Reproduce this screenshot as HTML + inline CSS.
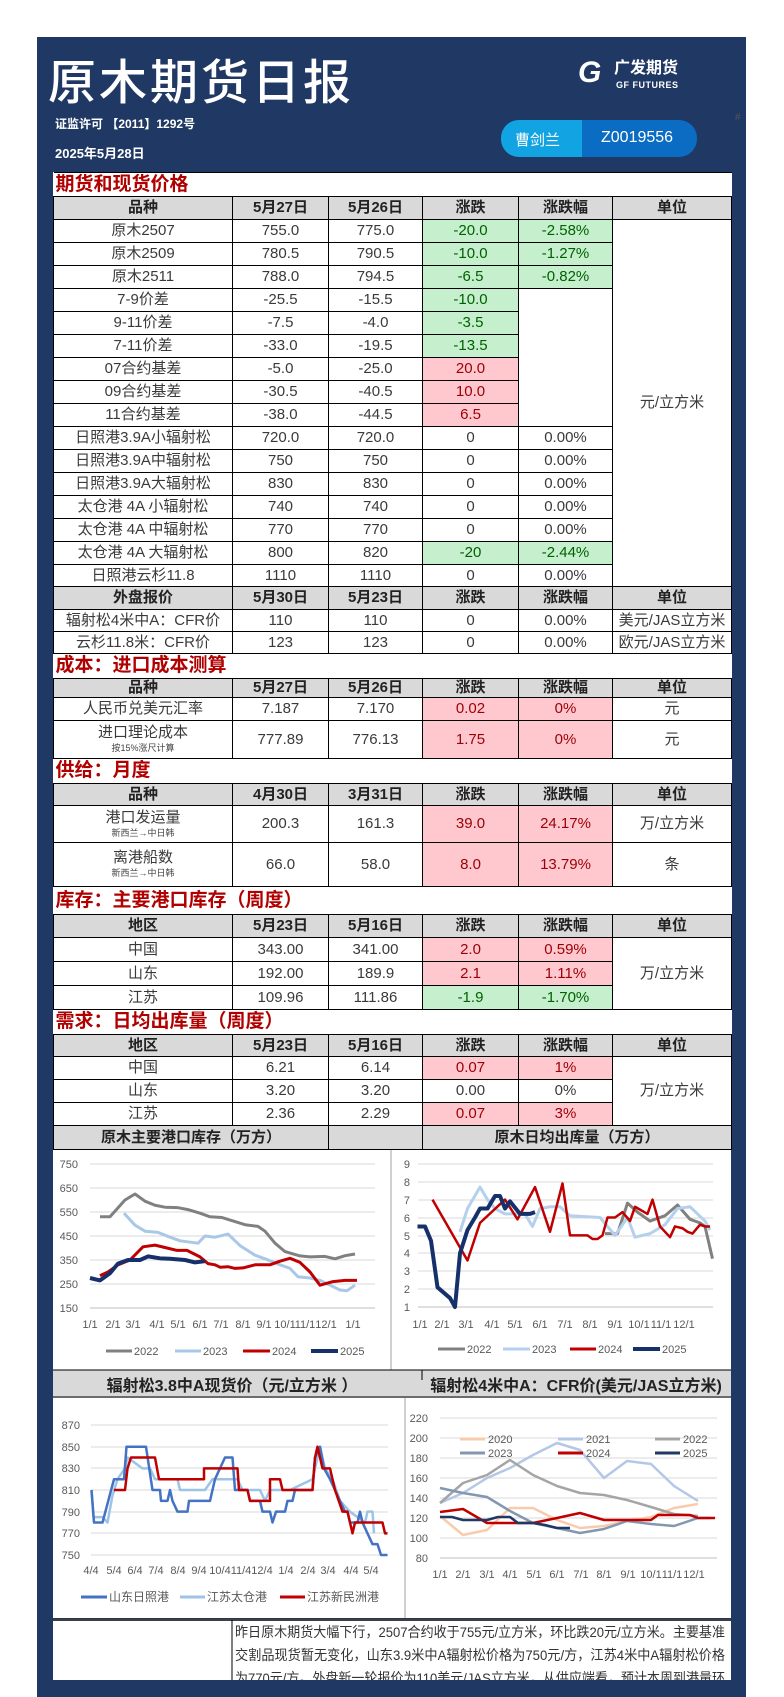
<!DOCTYPE html>
<html><head><meta charset="utf-8"><style>
*{margin:0;padding:0;box-sizing:border-box}
body{width:784px;height:1680px;background:#fff;position:relative;overflow:hidden;font-family:"Liberation Sans","Noto Sans CJK SC",sans-serif;color:#333}
.panel{position:absolute;left:37px;top:37px;width:709px;height:1660px;background:#203864}
.abs{position:absolute}
table{position:absolute;left:53px;top:172px;width:678px;border-collapse:collapse;table-layout:fixed;background:#fff}
td{border:1px solid #000;text-align:center;font-size:15px;line-height:1.05;padding:0;color:#3a3a3a;overflow:hidden;white-space:nowrap}
tr.t td{border-left:none;border-right:none;text-align:left;color:#b00000;font-size:19px;padding-left:2px;font-weight:bold}
tr.h td{background:#d9d9d9;font-weight:bold;color:#222}
td.g{background:#c6efce;color:#006100}
td.r{background:#ffc7ce;color:#9c0006}
small{font-size:9px;display:block;margin-top:3px;color:#444}
svg{position:absolute;left:0;top:0}
</style></head><body>
<div class="panel"></div>
<div class="abs" style="left:48px;top:48px;font-size:48px;color:#fff;letter-spacing:3px;font-family:'Noto Sans CJK SC',sans-serif;font-weight:500;line-height:60px">原木期货日报</div>
<div class="abs" style="left:55px;top:115px;font-size:12px;color:#fff;font-weight:bold">证监许可 【2011】1292号</div>
<div class="abs" style="left:55px;top:143px;font-size:13px;color:#fff;font-weight:bold">2025年5月28日</div>
<div class="abs" style="left:578px;top:58px;width:27px;height:30px;font-size:30px;line-height:30px;color:#fff;font-weight:bold;font-style:italic">G</div>
<div class="abs" style="left:614px;top:60px;font-size:16px;color:#fff;font-weight:bold;line-height:18px">广发期货</div>
<div class="abs" style="left:616px;top:80px;font-size:9px;color:#fff;font-weight:bold;letter-spacing:0.5px">GF FUTURES</div>
<div class="abs" style="left:501px;top:120px;width:196px;height:37px;border-radius:18px;background:#0a6cc2;overflow:hidden">
<div style="position:absolute;left:0;top:0;width:81px;height:37px;background:#12a3e3"></div>
<div style="position:absolute;left:14px;top:9px;font-size:15px;color:#fff">曹剑兰</div>
<div style="position:absolute;left:100px;top:9px;font-size:16px;color:#fff">Z0019556</div></div>
<div class="abs" style="left:735px;top:112px;font-size:10px;color:#555">#</div>

<table>
<colgroup><col style="width:179px"><col style="width:96px"><col style="width:94px"><col style="width:96px"><col style="width:94px"><col style="width:119px"></colgroup>
<tr class="t" style="height:24px"><td colspan="6">期货和现货价格</td></tr>
<tr class="h" style="height:23px"><td>品种</td><td>5月27日</td><td>5月26日</td><td>涨跌</td><td>涨跌幅</td><td>单位</td></tr>
<tr style="height:23px"><td>原木2507</td><td>755.0</td><td>775.0</td><td class="g">-20.0</td><td class="g">-2.58%</td><td rowspan="16">元/立方米</td></tr>
<tr style="height:23px"><td>原木2509</td><td>780.5</td><td>790.5</td><td class="g">-10.0</td><td class="g">-1.27%</td></tr>
<tr style="height:23px"><td>原木2511</td><td>788.0</td><td>794.5</td><td class="g">-6.5</td><td class="g">-0.82%</td></tr>
<tr style="height:23px"><td>7-9价差</td><td>-25.5</td><td>-15.5</td><td class="g">-10.0</td><td rowspan="6" style="border-bottom:1px solid #000"></td></tr>
<tr style="height:23px"><td>9-11价差</td><td>-7.5</td><td>-4.0</td><td class="g">-3.5</td></tr>
<tr style="height:23px"><td>7-11价差</td><td>-33.0</td><td>-19.5</td><td class="g">-13.5</td></tr>
<tr style="height:23px"><td>07合约基差</td><td>-5.0</td><td>-25.0</td><td class="r">20.0</td></tr>
<tr style="height:23px"><td>09合约基差</td><td>-30.5</td><td>-40.5</td><td class="r">10.0</td></tr>
<tr style="height:23px"><td>11合约基差</td><td>-38.0</td><td>-44.5</td><td class="r">6.5</td></tr>
<tr style="height:23px"><td>日照港3.9A小辐射松</td><td>720.0</td><td>720.0</td><td>0</td><td>0.00%</td></tr>
<tr style="height:23px"><td>日照港3.9A中辐射松</td><td>750</td><td>750</td><td>0</td><td>0.00%</td></tr>
<tr style="height:23px"><td>日照港3.9A大辐射松</td><td>830</td><td>830</td><td>0</td><td>0.00%</td></tr>
<tr style="height:23px"><td>太仓港 4A 小辐射松</td><td>740</td><td>740</td><td>0</td><td>0.00%</td></tr>
<tr style="height:23px"><td>太仓港 4A 中辐射松</td><td>770</td><td>770</td><td>0</td><td>0.00%</td></tr>
<tr style="height:23px"><td>太仓港 4A 大辐射松</td><td>800</td><td>820</td><td class="g">-20</td><td class="g">-2.44%</td></tr>
<tr style="height:22px"><td>日照港云杉11.8</td><td>1110</td><td>1110</td><td>0</td><td>0.00%</td></tr>
<tr class="h" style="height:23px"><td>外盘报价</td><td>5月30日</td><td>5月23日</td><td>涨跌</td><td>涨跌幅</td><td>单位</td></tr>
<tr style="height:22px"><td>辐射松4米中A：CFR价</td><td>110</td><td>110</td><td>0</td><td>0.00%</td><td>美元/JAS立方米</td></tr>
<tr style="height:22px"><td>云杉11.8米：CFR价</td><td>123</td><td>123</td><td>0</td><td>0.00%</td><td>欧元/JAS立方米</td></tr>
<tr class="t" style="height:25px"><td colspan="6">成本：进口成本测算</td></tr>
<tr class="h" style="height:19px"><td>品种</td><td>5月27日</td><td>5月26日</td><td>涨跌</td><td>涨跌幅</td><td>单位</td></tr>
<tr style="height:23px"><td>人民币兑美元汇率</td><td>7.187</td><td>7.170</td><td class="r">0.02</td><td class="r">0%</td><td>元</td></tr>
<tr style="height:38px"><td>进口理论成本<small>按15%涨尺计算</small></td><td>777.89</td><td>776.13</td><td class="r">1.75</td><td class="r">0%</td><td>元</td></tr>
<tr class="t" style="height:25px"><td colspan="6">供给：月度</td></tr>
<tr class="h" style="height:22px"><td>品种</td><td>4月30日</td><td>3月31日</td><td>涨跌</td><td>涨跌幅</td><td>单位</td></tr>
<tr style="height:37px"><td>港口发运量<small>新西兰→中日韩</small></td><td>200.3</td><td>161.3</td><td class="r">39.0</td><td class="r">24.17%</td><td>万/立方米</td></tr>
<tr style="height:44px"><td>离港船数<small>新西兰→中日韩</small></td><td>66.0</td><td>58.0</td><td class="r">8.0</td><td class="r">13.79%</td><td>条</td></tr>
<tr class="t" style="height:28px"><td colspan="6">库存：主要港口库存（周度）</td></tr>
<tr class="h" style="height:23px"><td>地区</td><td>5月23日</td><td>5月16日</td><td>涨跌</td><td>涨跌幅</td><td>单位</td></tr>
<tr style="height:24px"><td>中国</td><td>343.00</td><td>341.00</td><td class="r">2.0</td><td class="r">0.59%</td><td rowspan="3">万/立方米</td></tr>
<tr style="height:24px"><td>山东</td><td>192.00</td><td>189.9</td><td class="r">2.1</td><td class="r">1.11%</td></tr>
<tr style="height:24px"><td>江苏</td><td>109.96</td><td>111.86</td><td class="g">-1.9</td><td class="g">-1.70%</td></tr>
<tr class="t" style="height:25px"><td colspan="6">需求：日均出库量（周度）</td></tr>
<tr class="h" style="height:22px"><td>地区</td><td>5月23日</td><td>5月16日</td><td>涨跌</td><td>涨跌幅</td><td>单位</td></tr>
<tr style="height:23px"><td>中国</td><td>6.21</td><td>6.14</td><td class="r">0.07</td><td class="r">1%</td><td rowspan="3">万/立方米</td></tr>
<tr style="height:23px"><td>山东</td><td>3.20</td><td>3.20</td><td>0.00</td><td>0%</td></tr>
<tr style="height:23px"><td>江苏</td><td>2.36</td><td>2.29</td><td class="r">0.07</td><td class="r">3%</td></tr>
<tr class="h" style="height:24px"><td colspan="2" style="font-size:15px">原木主要港口库存（万方）</td><td></td><td colspan="3">原木日均出库量（万方）</td></tr>
</table>

<svg width="784" height="1680" viewBox="0 0 784 1680" font-family="Liberation Sans, Noto Sans CJK SC, sans-serif">
<rect x="53" y="1150" width="678" height="220" fill="#fff"/>
<line x1="391" y1="1150" x2="391" y2="1370" stroke="#d0d0d0" stroke-width="2"/>
<g stroke="#d9d9d9" stroke-width="1">
<line x1="90" y1="1164" x2="375" y2="1164"/><line x1="90" y1="1188" x2="375" y2="1188"/><line x1="90" y1="1212" x2="375" y2="1212"/><line x1="90" y1="1236" x2="375" y2="1236"/><line x1="90" y1="1260" x2="375" y2="1260"/><line x1="90" y1="1284" x2="375" y2="1284"/>
<line x1="418" y1="1164" x2="713" y2="1164"/><line x1="418" y1="1182" x2="713" y2="1182"/><line x1="418" y1="1200" x2="713" y2="1200"/><line x1="418" y1="1218" x2="713" y2="1218"/><line x1="418" y1="1236" x2="713" y2="1236"/><line x1="418" y1="1253" x2="713" y2="1253"/><line x1="418" y1="1271" x2="713" y2="1271"/><line x1="418" y1="1289" x2="713" y2="1289"/>
</g>
<g stroke="#bfbfbf"><line x1="90" y1="1308" x2="375" y2="1308"/><line x1="418" y1="1307" x2="713" y2="1307"/></g>
<g font-size="11" fill="#595959" text-anchor="end">
<text x="78" y="1168">750</text><text x="78" y="1192">650</text><text x="78" y="1216">550</text><text x="78" y="1240">450</text><text x="78" y="1264">350</text><text x="78" y="1288">250</text><text x="78" y="1312">150</text>
<text x="410" y="1168">9</text><text x="410" y="1186">8</text><text x="410" y="1204">7</text><text x="410" y="1222">6</text><text x="410" y="1240">5</text><text x="410" y="1257">4</text><text x="410" y="1275">3</text><text x="410" y="1293">2</text><text x="410" y="1311">1</text>
</g>
<g font-size="11" fill="#595959" text-anchor="middle">
<text x="90" y="1328">1/1</text><text x="113" y="1328">2/1</text><text x="133" y="1328">3/1</text><text x="157" y="1328">4/1</text><text x="178" y="1328">5/1</text><text x="200" y="1328">6/1</text><text x="221" y="1328">7/1</text><text x="243" y="1328">8/1</text><text x="264" y="1328">9/1</text><text x="285" y="1328">10/1</text><text x="305" y="1328">11/1</text><text x="326" y="1328">12/1</text><text x="353" y="1328">1/1</text>
<text x="420" y="1328">1/1</text><text x="442" y="1328">2/1</text><text x="466" y="1328">3/1</text><text x="492" y="1328">4/1</text><text x="515" y="1328">5/1</text><text x="540" y="1328">6/1</text><text x="565" y="1328">7/1</text><text x="590" y="1328">8/1</text><text x="615" y="1328">9/1</text><text x="639" y="1328">10/1</text><text x="661" y="1328">11/1</text><text x="684" y="1328">12/1</text>
</g>
<g fill="none" stroke-linejoin="round">
<g transform="matrix(1 0 0 -0.24 0 1344)">
<polyline vector-effect="non-scaling-stroke" stroke="#808080" stroke-width="3" points="100,530 110,530 125,600 135,625 145,595 155,578 165,570 178,568 188,560 200,545 210,530 222,527 235,510 245,497 258,490 265,470 275,420 285,385 300,367 310,363 325,365 335,355 345,368 355,375"/>
<polyline vector-effect="non-scaling-stroke" stroke="#a9c8e8" stroke-width="3" points="124,545 135,495 145,470 158,465 170,445 180,430 198,420 205,450 215,445 228,458 240,410 255,370 265,355 280,330 290,315 298,280 310,275 320,265 330,245 340,225 347,222 355,245"/>
<polyline vector-effect="non-scaling-stroke" stroke="#c00000" stroke-width="3" points="100,285 108,300 118,330 130,350 143,405 155,412 167,400 177,390 187,390 200,363 208,335 215,330 220,320 228,322 235,315 243,317 255,330 270,330 280,345 290,357 300,340 310,300 320,245 333,260 345,265 357,265"/>
<polyline vector-effect="non-scaling-stroke" stroke="#15306a" stroke-width="4" points="90,275 100,265 110,295 118,335 128,350 140,350 148,365 160,357 170,355 185,350 195,340 205,345"/>
</g>
<g transform="matrix(0.5 0 0 -17.9 0 1324.9)">
<polyline vector-effect="non-scaling-stroke" stroke="#808080" stroke-width="3" points="1210,5.1 1235,5.1 1255,6.8 1275,6.3 1300,5.8 1330,6.1 1355,6.7 1380,5.9 1400,5.7 1410,5.5 1425,3.7"/>
<polyline vector-effect="non-scaling-stroke" stroke="#b4d0ec" stroke-width="3" points="920,5.2 935,6.5 960,7.7 975,7.0 990,6.5 1010,6.2 1050,6.2 1065,5.5 1080,6.5 1100,6.6 1120,6.6 1140,6.1 1200,6.0 1230,5.0 1255,6.0 1270,4.9 1300,5.1 1330,5.6 1355,6.5 1380,6.6 1410,5.8 1420,5.3"/>
<polyline vector-effect="non-scaling-stroke" stroke="#c00000" stroke-width="2.5" points="865,7 935,3.6 960,5.7 1010,7.0 1035,5.9 1070,7.7 1100,5.2 1125,7.9 1140,5.0 1175,5.0 1185,4.8 1195,4.8 1205,5.0 1215,6.0 1230,6.0 1245,6.3 1260,5.8 1270,6.6 1295,6.2 1305,7.0 1320,5.5 1340,4.9 1350,5.5 1365,5.4 1375,5.2 1385,5.1 1400,5.6 1410,5.5 1420,5.5"/>
<polyline vector-effect="non-scaling-stroke" stroke="#15306a" stroke-width="4" points="835,5.5 850,5.5 862,4.7 875,2.1 900,1.5 910,1 920,4 935,5.3 950,6 960,6.5 975,6.5 990,7.2 1000,7.2 1010,6.5 1020,6.9 1040,6.2 1060,6.2 1070,6.3"/>
</g>
</g>
<g font-size="11" fill="#595959">
<line x1="106" y1="1351" x2="132" y2="1351" stroke="#808080" stroke-width="3"/><text x="134" y="1355">2022</text>
<line x1="175" y1="1351" x2="201" y2="1351" stroke="#a9c8e8" stroke-width="3"/><text x="203" y="1355">2023</text>
<line x1="243" y1="1351" x2="270" y2="1351" stroke="#c00000" stroke-width="3"/><text x="272" y="1355">2024</text>
<line x1="311" y1="1351" x2="338" y2="1351" stroke="#15306a" stroke-width="4"/><text x="340" y="1355">2025</text>
<line x1="438" y1="1349" x2="465" y2="1349" stroke="#808080" stroke-width="3"/><text x="467" y="1353">2022</text>
<line x1="503" y1="1349" x2="530" y2="1349" stroke="#b4d0ec" stroke-width="3"/><text x="532" y="1353">2023</text>
<line x1="570" y1="1349" x2="596" y2="1349" stroke="#c00000" stroke-width="3"/><text x="598" y="1353">2024</text>
<line x1="633" y1="1349" x2="660" y2="1349" stroke="#15306a" stroke-width="4"/><text x="662" y="1353">2025</text>
</g>
<rect x="53" y="1370" width="678" height="28" fill="#d9d9d9"/>
<line x1="53" y1="1370" x2="731" y2="1370" stroke="#000"/>
<line x1="53" y1="1397" x2="731" y2="1397" stroke="#000"/>
<line x1="422" y1="1370" x2="422" y2="1380" stroke="#000"/>
<text x="232" y="1391" font-size="16" fill="#222" text-anchor="middle" font-weight="bold">辐射松3.8中A现货价（元/立方米 ）</text>
<text x="576" y="1391" font-size="16" fill="#222" text-anchor="middle" font-weight="bold">辐射松4米中A：CFR价(美元/JAS立方米)</text>
<rect x="53" y="1398" width="678" height="220" fill="#fff"/>
<line x1="405" y1="1398" x2="405" y2="1618" stroke="#d0d0d0" stroke-width="2"/>
<g stroke="#d9d9d9">
<line x1="91" y1="1425" x2="388" y2="1425"/><line x1="91" y1="1447" x2="388" y2="1447"/><line x1="91" y1="1468" x2="388" y2="1468"/><line x1="91" y1="1490" x2="388" y2="1490"/><line x1="91" y1="1512" x2="388" y2="1512"/><line x1="91" y1="1533" x2="388" y2="1533"/><line x1="91" y1="1555" x2="388" y2="1555"/>
<line x1="440" y1="1418" x2="717" y2="1418"/><line x1="440" y1="1438" x2="717" y2="1438"/><line x1="440" y1="1458" x2="717" y2="1458"/><line x1="440" y1="1478" x2="717" y2="1478"/><line x1="440" y1="1498" x2="717" y2="1498"/><line x1="440" y1="1518" x2="717" y2="1518"/><line x1="440" y1="1538" x2="717" y2="1538"/>
</g>
<line x1="440" y1="1558" x2="717" y2="1558" stroke="#bfbfbf"/>
<g font-size="11" fill="#595959" text-anchor="end">
<text x="80" y="1429">870</text><text x="80" y="1451">850</text><text x="80" y="1472">830</text><text x="80" y="1494">810</text><text x="80" y="1516">790</text><text x="80" y="1537">770</text><text x="80" y="1559">750</text>
<text x="428" y="1422">220</text><text x="428" y="1442">200</text><text x="428" y="1462">180</text><text x="428" y="1482">160</text><text x="428" y="1502">140</text><text x="428" y="1522">120</text><text x="428" y="1542">100</text><text x="428" y="1562">80</text>
</g>
<g font-size="11" fill="#595959" text-anchor="middle">
<text x="91" y="1574">4/4</text><text x="114" y="1574">5/4</text><text x="135" y="1574">6/4</text><text x="156" y="1574">7/4</text><text x="178" y="1574">8/4</text><text x="199" y="1574">9/4</text><text x="220" y="1574">10/4</text><text x="241" y="1574">11/4</text><text x="262" y="1574">12/4</text><text x="286" y="1574">1/4</text><text x="308" y="1574">2/4</text><text x="328" y="1574">3/4</text><text x="351" y="1574">4/4</text><text x="371" y="1574">5/4</text>
<text x="440" y="1578">1/1</text><text x="463" y="1578">2/1</text><text x="487" y="1578">3/1</text><text x="510" y="1578">4/1</text><text x="534" y="1578">5/1</text><text x="557" y="1578">6/1</text><text x="581" y="1578">7/1</text><text x="604" y="1578">8/1</text><text x="628" y="1578">9/1</text><text x="651" y="1578">10/1</text><text x="672" y="1578">11/1</text><text x="694" y="1578">12/1</text>
</g>
<g fill="none" stroke-linejoin="round">
<g transform="matrix(0.5 0 0 -1.083 0 2367.25)">
<polyline vector-effect="non-scaling-stroke" stroke="#9dc3e6" stroke-width="2.5" points="183,810 187,785 205,785 215,780 225,805 235,820 250,830 255,840 285,830 300,830 310,820 355,820 360,810 410,810 425,820 475,820 485,810 520,810 530,800 540,810 580,810 625,820 640,850 650,830 665,820 680,800 700,790 730,780 735,790 745,790 748,770"/>
<polyline vector-effect="non-scaling-stroke" stroke="#4472c4" stroke-width="2.5" points="183,810 188,780 205,780 228,820 248,820 253,850 292,850 305,810 320,810 322,800 335,800 340,810 345,800 355,790 375,790 378,800 420,800 430,820 450,840 465,840 470,810 495,810 500,800 520,800 525,790 540,790 545,780 552,790 570,790 575,800 585,800 590,810 625,810 630,840 640,850 648,830 660,820 670,810 680,800 690,790 695,790 700,780 715,780 720,790 725,780 735,770 745,760 755,760 762,750 775,750"/>
<polyline vector-effect="non-scaling-stroke" stroke="#c00000" stroke-width="2.5" points="228,810 250,810 255,830 262,840 310,840 318,820 408,820 408,830 475,830 478,810 495,810 500,800 540,800 540,820 560,820 565,810 625,810 630,840 635,850 645,830 660,830 670,810 685,790 695,790 700,780 705,770 710,780 765,780 770,770 775,770"/>
</g>
<g transform="matrix(1 0 0 -1 0 1638)">
<polyline vector-effect="non-scaling-stroke" stroke="#f8cbad" stroke-width="2.5" points="440,122 463,103 487,108 510,130 533,130 557,118 580,110 604,112 627,117 651,121 674,130 698,134"/>
<polyline vector-effect="non-scaling-stroke" stroke="#b4c7e7" stroke-width="2.5" points="440,135 463,145 487,160 510,170 533,183 557,195 580,188 604,160 627,177 651,174 674,152 698,137"/>
<polyline vector-effect="non-scaling-stroke" stroke="#a5a5a5" stroke-width="2.5" points="440,135 463,155 487,163 510,178 533,163 557,152 580,145 604,143 627,138 651,131 674,124 698,122"/>
<polyline vector-effect="non-scaling-stroke" stroke="#8497b0" stroke-width="2.5" points="440,150 463,145 487,141 510,127 533,115 557,110 580,105 604,109 627,117 651,114 674,112 698,120 710,120"/>
<polyline vector-effect="non-scaling-stroke" stroke="#c00000" stroke-width="2.5" points="440,126 463,129 475,122 487,115 510,115 533,115 557,120 580,125 604,118 627,118 651,118 658,123 674,123 690,123 698,120 715,120"/>
<polyline vector-effect="non-scaling-stroke" stroke="#203864" stroke-width="2.5" points="440,121 452,121 463,118 487,118 498,121 510,121 518,115 533,115 545,113 557,110 570,110"/>
</g>
</g>
<g font-size="12" fill="#595959">
<line x1="81" y1="1597" x2="107" y2="1597" stroke="#4472c4" stroke-width="3"/><text x="109" y="1601">山东日照港</text>
<line x1="180" y1="1597" x2="205" y2="1597" stroke="#9dc3e6" stroke-width="3"/><text x="207" y="1601">江苏太仓港</text>
<line x1="280" y1="1597" x2="305" y2="1597" stroke="#c00000" stroke-width="3"/><text x="307" y="1601">江苏新民洲港</text>
</g>
<g font-size="11" fill="#595959">
<line x1="460" y1="1439" x2="485" y2="1439" stroke="#f8cbad" stroke-width="3"/><text x="488" y="1443">2020</text>
<line x1="558" y1="1439" x2="583" y2="1439" stroke="#b4c7e7" stroke-width="3"/><text x="586" y="1443">2021</text>
<line x1="655" y1="1439" x2="680" y2="1439" stroke="#a5a5a5" stroke-width="3"/><text x="683" y="1443">2022</text>
<line x1="460" y1="1453" x2="485" y2="1453" stroke="#8497b0" stroke-width="3"/><text x="488" y="1457">2023</text>
<line x1="558" y1="1453" x2="583" y2="1453" stroke="#c00000" stroke-width="3"/><text x="586" y="1457">2024</text>
<line x1="655" y1="1453" x2="680" y2="1453" stroke="#203864" stroke-width="3"/><text x="683" y="1457">2025</text>
</g>
<rect x="53" y="1619" width="678" height="70" fill="#fff"/>
<line x1="53" y1="1620" x2="731" y2="1620" stroke="#000" stroke-width="1.5"/>
<line x1="232" y1="1620" x2="232" y2="1680" stroke="#000"/>
<g font-size="14" fill="#333">
<text x="235" y="1637" textLength="490" lengthAdjust="spacingAndGlyphs">昨日原木期货大幅下行，2507合约收于755元/立方米，环比跌20元/立方米。主要基准</text>
<text x="235" y="1660" textLength="490" lengthAdjust="spacingAndGlyphs">交割品现货暂无变化，山东3.9米中A辐射松价格为750元/方，江苏4米中A辐射松价格</text>
<text x="235" y="1683" textLength="490" lengthAdjust="spacingAndGlyphs">为770元/方。外盘新一轮报价为110美元/JAS立方米，从供应端看，预计本周到港量环</text>
</g>
</svg>
</body></html>
